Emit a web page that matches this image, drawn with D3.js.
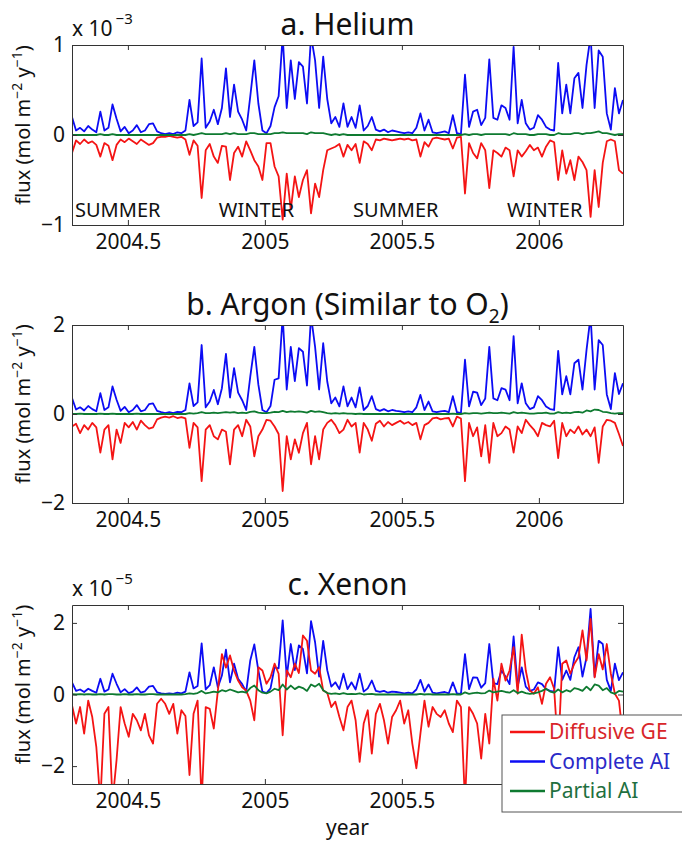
<!DOCTYPE html>
<html>
<head>
<meta charset="utf-8">
<script src="https://cdn.jsdelivr.net/npm/d3@7"></script>
<style>
  body { margin: 0; background: #fff; }
  svg { font-family: "Noto Sans", "Open Sans", sans-serif; }
</style>
</head>
<body>
<div id="chart"></div>
<script>
// regular time series: first sample and step, in years
const tStart = 2004.296, tStep = 0.014787;

// a. Helium (x 1e-3)
const heliumDiffusive = [
  -0.20, -0.06, -0.10, -0.05, -0.09, -0.07, -0.11, -0.24, -0.09, -0.12,
  -0.28, -0.11, -0.05, -0.08, -0.04, -0.07, -0.10, -0.05, -0.08, -0.11,
  -0.09, -0.03, -0.02, -0.02, -0.01, -0.02, -0.03, -0.02, -0.05, -0.22,
  -0.06, -0.12, -0.70, -0.17, -0.10, -0.24, -0.31, -0.12, -0.13, -0.50,
  -0.20, -0.13, -0.24, -0.07, -0.17, -0.28, -0.35, -0.50, -0.09, -0.09,
  -0.35, -0.46, -0.94, -0.43, -0.83, -0.46, -0.69, -0.50, -0.39, -0.87,
  -0.54, -0.69, -0.39, -0.17, -0.15, -0.13, -0.10, -0.24, -0.11, -0.17,
  -0.10, -0.31, -0.07, -0.10, -0.17, -0.05, -0.06, -0.04, -0.05, -0.06,
  -0.05, -0.04, -0.05, -0.04, -0.06, -0.05, -0.24, -0.08, -0.13, -0.04,
  -0.03, -0.04, -0.05, -0.04, -0.15, -0.03, -0.02, -0.65, -0.09, -0.20,
  -0.26, -0.09, -0.17, -0.59, -0.17, -0.20, -0.24, -0.14, -0.17, -0.46,
  -0.17, -0.24, -0.18, -0.11, -0.17, -0.14, -0.24, -0.13, -0.06, -0.08,
  -0.50, -0.17, -0.43, -0.28, -0.50, -0.24, -0.30, -0.39, -0.91, -0.39,
  -0.80, -0.31, -0.07, -0.05, -0.07, -0.39, -0.43
];
const heliumComplete = [
  0.20, 0.05, 0.08, 0.04, 0.10, 0.06, 0.03, 0.26, 0.05, 0.08,
  0.34, 0.18, 0.04, 0.09, 0.02, 0.05, 0.11, 0.03, 0.05, 0.12,
  0.13, 0.04, 0.02, 0.01, 0.02, 0.01, 0.03, 0.02, 0.05, 0.39,
  0.10, 0.14, 0.85, 0.08, 0.15, 0.28, 0.12, 0.30, 0.74, 0.20,
  0.56, 0.26, 0.17, 0.05, 0.43, 0.83, 0.35, 0.05, 0.02, 0.10,
  0.31, 0.43, 1.10, 0.30, 0.83, 0.40, 0.81, 0.76, 0.35, 1.10,
  0.83, 0.30, 0.87, 0.40, 0.13, 0.20, 0.09, 0.35, 0.09, 0.20,
  0.08, 0.33, 0.05, 0.10, 0.20, 0.06, 0.04, 0.06, 0.03, 0.05,
  0.04, 0.03, 0.02, 0.03, 0.02, 0.08, 0.24, 0.05, 0.17, 0.03,
  0.02, 0.03, 0.04, 0.02, 0.22, 0.02, 0.01, 0.67, 0.09, 0.26,
  0.28, 0.11, 0.19, 0.84, 0.19, 0.17, 0.33, 0.30, 0.17, 0.98,
  0.13, 0.39, 0.13, 0.06, 0.08, 0.22, 0.17, 0.09, 0.06, 0.05,
  0.80, 0.24, 0.56, 0.24, 0.63, 0.69, 0.30, 0.78, 1.10, 0.30,
  0.94, 0.87, 0.24, 0.06, 0.52, 0.24, 0.39
];
const heliumPartial = [
  0.00, 0.00, 0.00, 0.00, 0.00, 0.00, 0.00, 0.01, 0.00, 0.00,
  0.01, 0.00, 0.00, 0.00, 0.00, 0.00, 0.00, 0.00, 0.00, 0.00,
  0.00, 0.00, 0.00, 0.00, 0.00, 0.00, 0.00, 0.00, 0.00, 0.01,
  0.00, 0.01, 0.02, 0.01, 0.01, 0.01, 0.01, 0.01, 0.02, 0.01,
  0.02, 0.01, 0.01, 0.01, 0.02, 0.02, 0.01, 0.01, 0.01, 0.01,
  0.02, 0.02, 0.03, 0.02, 0.02, 0.02, 0.02, 0.02, 0.01, 0.03,
  0.02, 0.02, 0.02, 0.01, 0.00, 0.01, 0.00, 0.01, 0.00, 0.00,
  0.00, 0.00, 0.00, 0.00, 0.00, 0.00, 0.00, 0.00, 0.00, 0.00,
  0.00, 0.00, 0.00, 0.00, 0.00, 0.00, 0.00, 0.00, 0.00, 0.00,
  0.00, 0.00, 0.00, 0.00, 0.00, 0.00, 0.00, 0.01, 0.00, 0.01,
  0.01, 0.00, 0.01, 0.01, 0.01, 0.01, 0.01, 0.01, 0.00, 0.02,
  0.01, 0.01, 0.01, 0.00, 0.00, 0.01, 0.01, 0.01, 0.00, 0.00,
  0.02, 0.01, 0.01, 0.01, 0.02, 0.02, 0.01, 0.02, 0.02, 0.03,
  0.04, 0.02, 0.02, 0.01, 0.00, 0.01, 0.01
];

// b. Argon
const argonDiffusive = [
  -0.28, -0.22, -0.43, -0.25, -0.35, -0.20, -0.30, -0.87, -0.35, -0.25,
  -1.02, -0.35, -0.65, -0.20, -0.30, -0.18, -0.35, -0.15, -0.25, -0.33,
  -0.30, -0.12, -0.08, -0.06, -0.08, -0.05, -0.09, -0.07, -0.10, -0.76,
  -0.20, -0.30, -1.51, -0.35, -0.25, -0.50, -0.57, -0.35, -0.40, -1.13,
  -0.35, -0.25, -0.50, -0.13, -0.28, -0.95, -0.50, -0.35, -0.13, -0.15,
  -0.28, -0.45, -1.73, -0.50, -1.02, -0.57, -0.87, -0.43, -0.20, -1.13,
  -0.50, -1.02, -0.35, -0.20, -0.13, -0.25, -0.43, -0.35, -0.13, -0.28,
  -0.20, -0.87, -0.20, -0.35, -0.60, -0.22, -0.15, -0.28, -0.18, -0.25,
  -0.20, -0.15, -0.22, -0.18, -0.25, -0.20, -0.57, -0.25, -0.20, -0.10,
  -0.08, -0.12, -0.10, -0.09, -0.28, -0.06, -0.10, -1.51, -0.20, -0.50,
  -0.30, -0.95, -0.25, -1.10, -0.20, -0.50, -0.43, -0.28, -0.35, -0.87,
  -0.28, -0.43, -0.13, -0.25, -0.35, -0.50, -0.20, -0.25, -0.28, -0.15,
  -0.99, -0.20, -0.50, -0.35, -0.43, -0.28, -0.46, -0.35, -0.50, -0.30,
  -1.10, -0.28, -0.13, -0.15, -0.20, -0.45, -0.72
];
const argonComplete = [
  0.36, 0.10, 0.15, 0.08, 0.18, 0.11, 0.06, 0.47, 0.09, 0.15,
  0.62, 0.32, 0.07, 0.16, 0.04, 0.09, 0.20, 0.06, 0.09, 0.22,
  0.24, 0.07, 0.04, 0.02, 0.04, 0.02, 0.05, 0.04, 0.09, 0.69,
  0.18, 0.26, 1.55, 0.15, 0.28, 0.54, 0.22, 0.58, 1.35, 0.37,
  1.03, 0.48, 0.31, 0.09, 0.84, 1.51, 0.66, 0.09, 0.04, 0.18,
  0.77, 0.80, 2.20, 0.55, 1.51, 0.74, 1.48, 1.40, 0.64, 2.20,
  1.51, 0.55, 1.59, 0.73, 0.24, 0.37, 0.17, 0.62, 0.17, 0.37,
  0.15, 0.60, 0.09, 0.18, 0.40, 0.11, 0.07, 0.11, 0.06, 0.09,
  0.07, 0.06, 0.04, 0.06, 0.04, 0.15, 0.43, 0.09, 0.28, 0.06,
  0.04, 0.06, 0.07, 0.04, 0.40, 0.04, 0.02, 1.22, 0.17, 0.50,
  0.48, 0.20, 0.35, 1.51, 0.35, 0.31, 0.58, 0.55, 0.31, 1.75,
  0.24, 0.69, 0.24, 0.11, 0.15, 0.40, 0.31, 0.17, 0.11, 0.09,
  1.42, 0.44, 0.85, 0.44, 1.14, 1.22, 0.55, 1.44, 2.20, 0.55,
  1.66, 1.55, 0.44, 0.11, 0.92, 0.45, 0.69
];
const argonPartial = [
  0.00, 0.00, 0.01, 0.00, 0.00, 0.00, 0.00, 0.01, 0.00, 0.00,
  0.01, 0.00, 0.00, 0.00, 0.00, 0.00, 0.01, 0.00, 0.00, 0.00,
  0.00, 0.00, 0.00, 0.00, 0.00, 0.00, 0.00, 0.00, 0.00, 0.02,
  0.01, 0.02, 0.04, 0.02, 0.02, 0.03, 0.02, 0.03, 0.04, 0.03,
  0.04, 0.02, 0.03, 0.02, 0.05, 0.06, 0.03, 0.02, 0.02, 0.03,
  0.05, 0.04, 0.07, 0.04, 0.06, 0.05, 0.06, 0.05, 0.03, 0.07,
  0.05, 0.06, 0.04, 0.02, 0.01, 0.02, 0.01, 0.02, 0.01, 0.01,
  0.00, 0.01, 0.00, 0.00, 0.00, 0.00, 0.00, 0.00, 0.00, 0.00,
  0.00, 0.00, 0.00, 0.00, 0.00, 0.00, 0.00, 0.00, 0.00, 0.00,
  0.00, 0.00, 0.00, 0.00, 0.01, 0.00, 0.00, 0.02, 0.01, 0.02,
  0.02, 0.01, 0.02, 0.03, 0.02, 0.02, 0.03, 0.02, 0.01, 0.04,
  0.02, 0.03, 0.02, 0.01, 0.01, 0.02, 0.02, 0.03, 0.01, 0.01,
  0.04, 0.02, 0.03, 0.02, 0.04, 0.05, 0.03, 0.08, 0.06, 0.10,
  0.09, 0.05, 0.04, 0.02, 0.01, 0.02, 0.02
];

// c. Xenon (x 1e-5)
const xenonDiffusive = [
  -0.30, -0.81, -0.35, -1.09, -0.17, -0.63, -1.46, -3.00, -0.54, -0.35,
  -3.00, -1.83, -0.35, -0.81, -1.18, -0.54, -0.72, -1.00, -0.54, -1.14,
  -1.37, -0.26, -0.12, -0.26, -0.54, -0.26, -1.09, -0.44, -0.60, -2.25,
  -0.54, -0.17, -3.00, -0.35, -0.40, -0.95, 0.10, 1.13, 0.75, 1.09,
  0.67, 0.39, 0.20, 0.11, -0.17, -0.72, 0.76, 0.67, 0.30, 0.48,
  0.86, 0.58, -1.14, 0.67, 0.48, 0.86, 0.60, 1.65, 1.50, 0.67,
  0.58, 0.76, 0.11, 0.05, -0.35, -0.20, -0.63, -1.00, -0.35, -0.17,
  -0.72, -1.88, -0.81, -0.44, -1.65, -0.54, -0.26, -0.72, -1.37, -0.63,
  -0.44, -0.17, -0.81, -0.44, -1.37, -2.06, -1.09, -0.17, -0.90, -0.35,
  -0.54, -0.63, -0.44, -0.81, -1.05, -0.17, -0.35, -3.00, -0.35, -0.54,
  -0.81, -1.79, -0.54, -1.37, 0.44, -0.17, 0.86, 0.39, 0.67, 1.32,
  0.02, 1.67, 0.67, 0.11, 0.02, 0.20, -0.26, 0.30, 0.48, 0.16,
  -1.60, 0.86, 0.95, 0.58, 0.86, 1.04, 1.79, 0.95, 2.11, 0.48,
  1.13, 0.70, 1.41, 0.58, 0.02, -0.17, -1.20
];
const xenonComplete = [
  0.34, 0.10, 0.14, 0.07, 0.16, 0.10, 0.05, 0.44, 0.08, 0.14,
  0.58, 0.30, 0.06, 0.15, 0.04, 0.08, 0.20, 0.05, 0.09, 0.22,
  0.24, 0.06, 0.03, 0.02, 0.03, 0.02, 0.05, 0.03, 0.08, 0.62,
  0.17, 0.24, 1.43, 0.14, 0.26, 0.76, 0.20, 0.53, 1.25, 0.34,
  0.86, 0.44, 0.29, 0.08, 0.95, 1.40, 0.67, 0.08, 0.04, 0.17,
  0.76, 0.73, 2.07, 0.50, 1.41, 0.68, 1.37, 1.27, 0.59, 2.05,
  1.46, 0.50, 1.50, 0.68, 0.22, 0.34, 0.15, 0.58, 0.15, 0.34,
  0.14, 0.58, 0.08, 0.17, 0.39, 0.10, 0.07, 0.10, 0.05, 0.08,
  0.07, 0.05, 0.03, 0.05, 0.03, 0.14, 0.41, 0.08, 0.28, 0.05,
  0.03, 0.05, 0.07, 0.03, 0.34, 0.03, 0.02, 1.13, 0.15, 0.48,
  0.47, 0.19, 0.32, 1.41, 0.32, 0.29, 0.67, 0.50, 0.29, 1.62,
  0.22, 0.76, 0.22, 0.10, 0.14, 0.34, 0.29, 0.15, 0.10, 0.08,
  1.32, 0.41, 0.67, 0.41, 1.04, 1.32, 0.50, 1.04, 2.39, 0.50,
  1.50, 1.41, 0.41, 0.10, 0.86, 0.40, 0.62
];
const xenonPartial = [
  0.01, 0.00, 0.01, 0.00, 0.01, 0.00, 0.00, 0.01, 0.00, 0.01,
  0.01, 0.00, 0.00, 0.01, 0.00, 0.00, 0.01, 0.00, 0.00, 0.01,
  0.01, 0.00, 0.00, 0.00, 0.00, 0.00, 0.00, 0.00, 0.01, 0.03,
  0.02, 0.04, 0.10, 0.03, 0.05, 0.08, 0.06, 0.12, 0.09, 0.14,
  0.10, 0.06, 0.08, 0.05, 0.18, 0.25, 0.12, 0.05, 0.03, 0.08,
  0.16, 0.12, 0.28, 0.14, 0.25, 0.15, 0.22, 0.18, 0.10, 0.28,
  0.22, 0.30, 0.12, 0.04, 0.02, 0.03, 0.01, 0.04, 0.01, 0.02,
  0.01, 0.03, 0.00, 0.01, 0.02, 0.00, 0.00, 0.00, 0.00, 0.00,
  0.00, 0.00, 0.00, 0.00, 0.00, 0.00, 0.02, 0.00, 0.01, 0.00,
  0.00, 0.00, 0.00, 0.00, 0.01, 0.00, 0.00, 0.06, 0.02, 0.04,
  0.05, 0.03, 0.04, 0.11, 0.06, 0.08, 0.10, 0.07, 0.05, 0.12,
  0.04, 0.08, 0.04, 0.02, 0.03, 0.06, 0.10, 0.16, 0.08, 0.05,
  0.14, 0.06, 0.12, 0.08, 0.18, 0.15, 0.10, 0.22, 0.12, 0.28,
  0.25, 0.12, 0.18, 0.06, 0.02, 0.10, 0.08
];

const xTicks = [2004.5, 2005, 2005.5, 2006];
const seasonNames = ["SUMMER", "WINTER", "SUMMER", "WINTER"];
const seasonStarts = [2004.307, 2004.832, 2005.322, 2005.884];
const seriesNames = ["Diffusive GE", "Complete AI", "Partial AI"];

const colors = { red: "#f41414", blue: "#0c0cf4", green: "#0e7a30" };
const textColors = ["#d8262a", "#2a2ac8", "#1f7040"];

const width = 682, height = 841;
const left = 72, right = 623;

const years = heliumDiffusive.map((d, i) => tStart + i * tStep);

const panels = [
  { id: "a", title: ["a. Helium"], top: 45, bottom: 225, ylim: [-1, 1], yticks: [-1, 0, 1], exp: "−3",
    red: heliumDiffusive, blue: heliumComplete, green: heliumPartial, seasons: true },
  { id: "b", title: ["b. Argon (Similar to O", "2", ")"], top: 325, bottom: 503, ylim: [-2, 2], yticks: [-2, 0, 2], exp: null,
    red: argonDiffusive, blue: argonComplete, green: argonPartial },
  // the 2006 label of panel c sits under the legend box
  { id: "c", title: ["c. Xenon"], top: 605, bottom: 784, ylim: [-2.5, 2.5], yticks: [-2, 0, 2], exp: "−5",
    red: xenonDiffusive, blue: xenonComplete, green: xenonPartial, xlabel: "year", hideLabel: 2006 }
];

const svg = d3.select("#chart").append("svg")
  .attr("width", width)
  .attr("height", height);

const x = d3.scaleLinear()
  .domain([years[0], years[years.length - 1]])
  .range([left, right]);

const fmtY = d3.format("");

panels.forEach(p => {
  const y = d3.scaleLinear().domain(p.ylim).range([p.bottom, p.top]);
  const g = svg.append("g");

  g.append("clipPath").attr("id", "clip-" + p.id)
    .append("rect")
    .attr("x", left).attr("y", p.top)
    .attr("width", right - left).attr("height", p.bottom - p.top);

  const line = d3.line()
    .x((d, i) => x(years[i]))
    .y(d => y(d));

  const plot = g.append("g").attr("clip-path", `url(#clip-${p.id})`);
  // drawing order: complete AI, diffusive, partial on top
  [["blue", p.blue], ["red", p.red], ["green", p.green]].forEach(([c, arr]) => {
    plot.append("path")
      .datum(arr)
      .attr("d", line)
      .attr("fill", "none")
      .attr("stroke", colors[c])
      .attr("stroke-width", 1.8)
      .attr("stroke-linejoin", "round");
  });

  // axes, ticks inward on all four sides
  const axB = g.append("g").attr("transform", `translate(0,${p.bottom})`)
    .call(d3.axisBottom(x).tickValues(xTicks).tickSize(-5).tickSizeOuter(0).tickPadding(9)
      .tickFormat(d => d === p.hideLabel ? "" : d));
  g.append("g").attr("transform", `translate(0,${p.top})`)
    .call(d3.axisTop(x).tickValues(xTicks).tickSize(-5).tickSizeOuter(0).tickFormat(""));
  const axL = g.append("g").attr("transform", `translate(${left},0)`)
    .call(d3.axisLeft(y).tickValues(p.yticks).tickSize(-5).tickSizeOuter(0).tickPadding(7).tickFormat(fmtY));
  g.append("g").attr("transform", `translate(${right},0)`)
    .call(d3.axisRight(y).tickValues(p.yticks).tickSize(-5).tickSizeOuter(0).tickFormat(""));

  g.selectAll(".domain, .tick line").attr("stroke", "#333");
  [axB, axL].forEach(a => a.selectAll("text")
    .attr("font-size", 21)
    .attr("font-family", '"Noto Sans", sans-serif')
    .attr("fill", "#111"));

  // title
  const t = g.append("text")
    .attr("x", (left + right) / 2)
    .attr("y", p.top - 10)
    .attr("text-anchor", "middle")
    .attr("font-size", 30)
    .attr("fill", "#111");
  t.append("tspan").text(p.title[0]);
  if (p.title.length > 1) {
    t.append("tspan").attr("font-size", 19).attr("dy", 8).text(p.title[1]);
    t.append("tspan").attr("dy", -8).text(p.title[2]);
  }

  // exponent multiplier
  if (p.exp) {
    const m = g.append("text")
      .attr("x", left)
      .attr("y", p.top - 9)
      .attr("font-size", 21)
      .attr("fill", "#111");
    m.append("tspan").text("x 10");
    m.append("tspan").attr("font-size", 15).attr("dx", 3).attr("dy", -12).text(p.exp);
  }

  // y label
  const yl = g.append("text")
    .attr("transform", `translate(30,${(p.top + p.bottom) / 2 - 10}) rotate(-90)`)
    .attr("text-anchor", "middle")
    .attr("font-size", 20)
    .attr("fill", "#111");
  yl.append("tspan").text("flux (mol m");
  yl.append("tspan").attr("font-size", 14).attr("dy", -8).text("−2");
  yl.append("tspan").attr("dy", 8).text(" y");
  yl.append("tspan").attr("font-size", 14).attr("dy", -8).text("−1");
  yl.append("tspan").attr("dy", 8).text(")");

  if (p.seasons) {
    g.selectAll(".season")
      .data(seasonNames)
      .enter().append("text")
      .attr("x", (d, i) => x(seasonStarts[i]))
      .attr("y", p.bottom - 8)
      .attr("font-size", 20)
      .attr("fill", "#111")
      .text(d => d);
  }

  if (p.xlabel) {
    g.append("text")
      .attr("x", (left + right) / 2)
      .attr("y", p.bottom + 51)
      .attr("text-anchor", "middle")
      .attr("font-size", 21)
      .attr("fill", "#111")
      .text(p.xlabel);
  }
});

// legend (on top of panel c, covering its lower right corner)
const leg = svg.append("g").attr("transform", "translate(502,715)");
leg.append("rect")
  .attr("width", 200).attr("height", 97)
  .attr("fill", "#fff")
  .attr("stroke", "#555");
const legColors = [colors.red, colors.blue, colors.green];
const items = leg.selectAll(".item")
  .data(seriesNames)
  .enter().append("g")
  .attr("transform", (d, i) => `translate(0,${17 + i * 29.5})`);
items.append("line")
  .attr("x1", 8).attr("x2", 43)
  .attr("stroke", (d, i) => legColors[i])
  .attr("stroke-width", 2.5);
items.append("text")
  .attr("x", 47)
  .attr("y", 7)
  .attr("font-size", 21)
  .attr("fill", (d, i) => textColors[i])
  .text(d => d);
</script>
</body>
</html>
